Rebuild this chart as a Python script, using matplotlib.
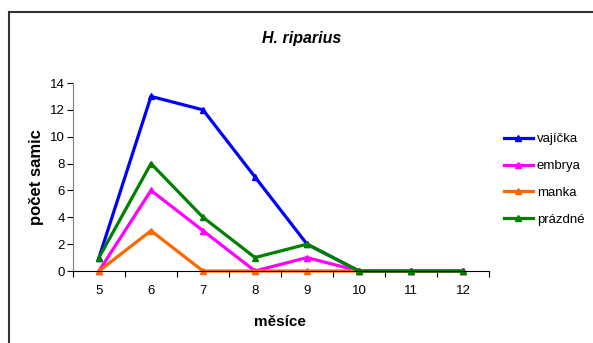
import matplotlib
matplotlib.use("Agg")
import matplotlib.pyplot as plt
from matplotlib.patches import Rectangle
from matplotlib.lines import Line2D

plt.rcParams['font.family'] = ['Liberation Sans', 'DejaVu Sans']

months = [5, 6, 7, 8, 9, 10, 11, 12]
vajicka = [1, 13, 12, 7, 2, 0, 0, 0]
embrya = [0, 6, 3, 0, 1, 0, 0, 0]
manka = [0, 3, 0, 0, 0, 0, 0, 0]
prazdne = [1, 8, 4, 1, 2, 0, 0, 0]
series_names = ["vajíčka", "embrya", "manka", "prázdné"]
colors = ["#0000FF", "#FF00FF", "#FF6600", "#008000"]

fig = plt.figure(figsize=(5.93, 3.43), dpi=100)
fig.patches.append(Rectangle((9/593, -0.2), 1.2, 1.2 - 12/343,
                             transform=fig.transFigure, fill=False,
                             edgecolor="#333333", linewidth=1.5))
ax = fig.add_axes([73/593, 1-271/343, 416/593, 188/343])

x = list(range(len(months)))
for vals, c, name in zip([vajicka, embrya, manka, prazdne], colors, series_names):
    ax.plot(x, vals, color=c, linewidth=2.3, marker="^", markersize=5,
            markeredgecolor=c, label=name, clip_on=False)

ax.set_xlim(-0.5, len(months) - 0.5)
ax.set_ylim(0, 14)
ax.set_yticks(range(0, 15, 2))
ax.set_xticks(x)
ax.set_xticklabels([str(m) for m in months])
ax.set_xticks([i - 0.5 for i in range(len(months) + 1)], minor=True)
ax.tick_params(axis="x", which="major", length=0, pad=10, labelsize=9.5)
ax.tick_params(axis="x", which="minor", length=4, direction="out", width=0.8)
ax.tick_params(axis="y", length=4, direction="out", width=0.8, labelsize=9.5, pad=2)
for s in ["top", "right"]:
    ax.spines[s].set_visible(False)
ax.spines["left"].set_color("#808080")
ax.spines["left"].set_linewidth(0.8)
ax.spines["bottom"].set_linewidth(0.8)

fig.text(302/593, 1-39/343, "H. riparius", ha="center", va="center",
         fontsize=11.5, fontweight="bold", fontstyle="italic")
fig.text(37/593, 1-177/343, "počet samic", ha="center", va="center",
         rotation=90, fontsize=12, fontweight="bold")
fig.text(280/593, 1-322/343, "měsíce", ha="center", va="center",
         fontsize=11, fontweight="bold")

handles = [Line2D([0], [0], color=c, linewidth=2.3, marker="^", markersize=5)
           for c in colors]
fig.legend(handles, series_names, loc="center left",
           bbox_to_anchor=(492/593, 1-179.5/343), frameon=False,
           fontsize=9.5, handlelength=2.2, handletextpad=0.3, labelspacing=1.1)

fig.savefig("out.png", dpi=100)
